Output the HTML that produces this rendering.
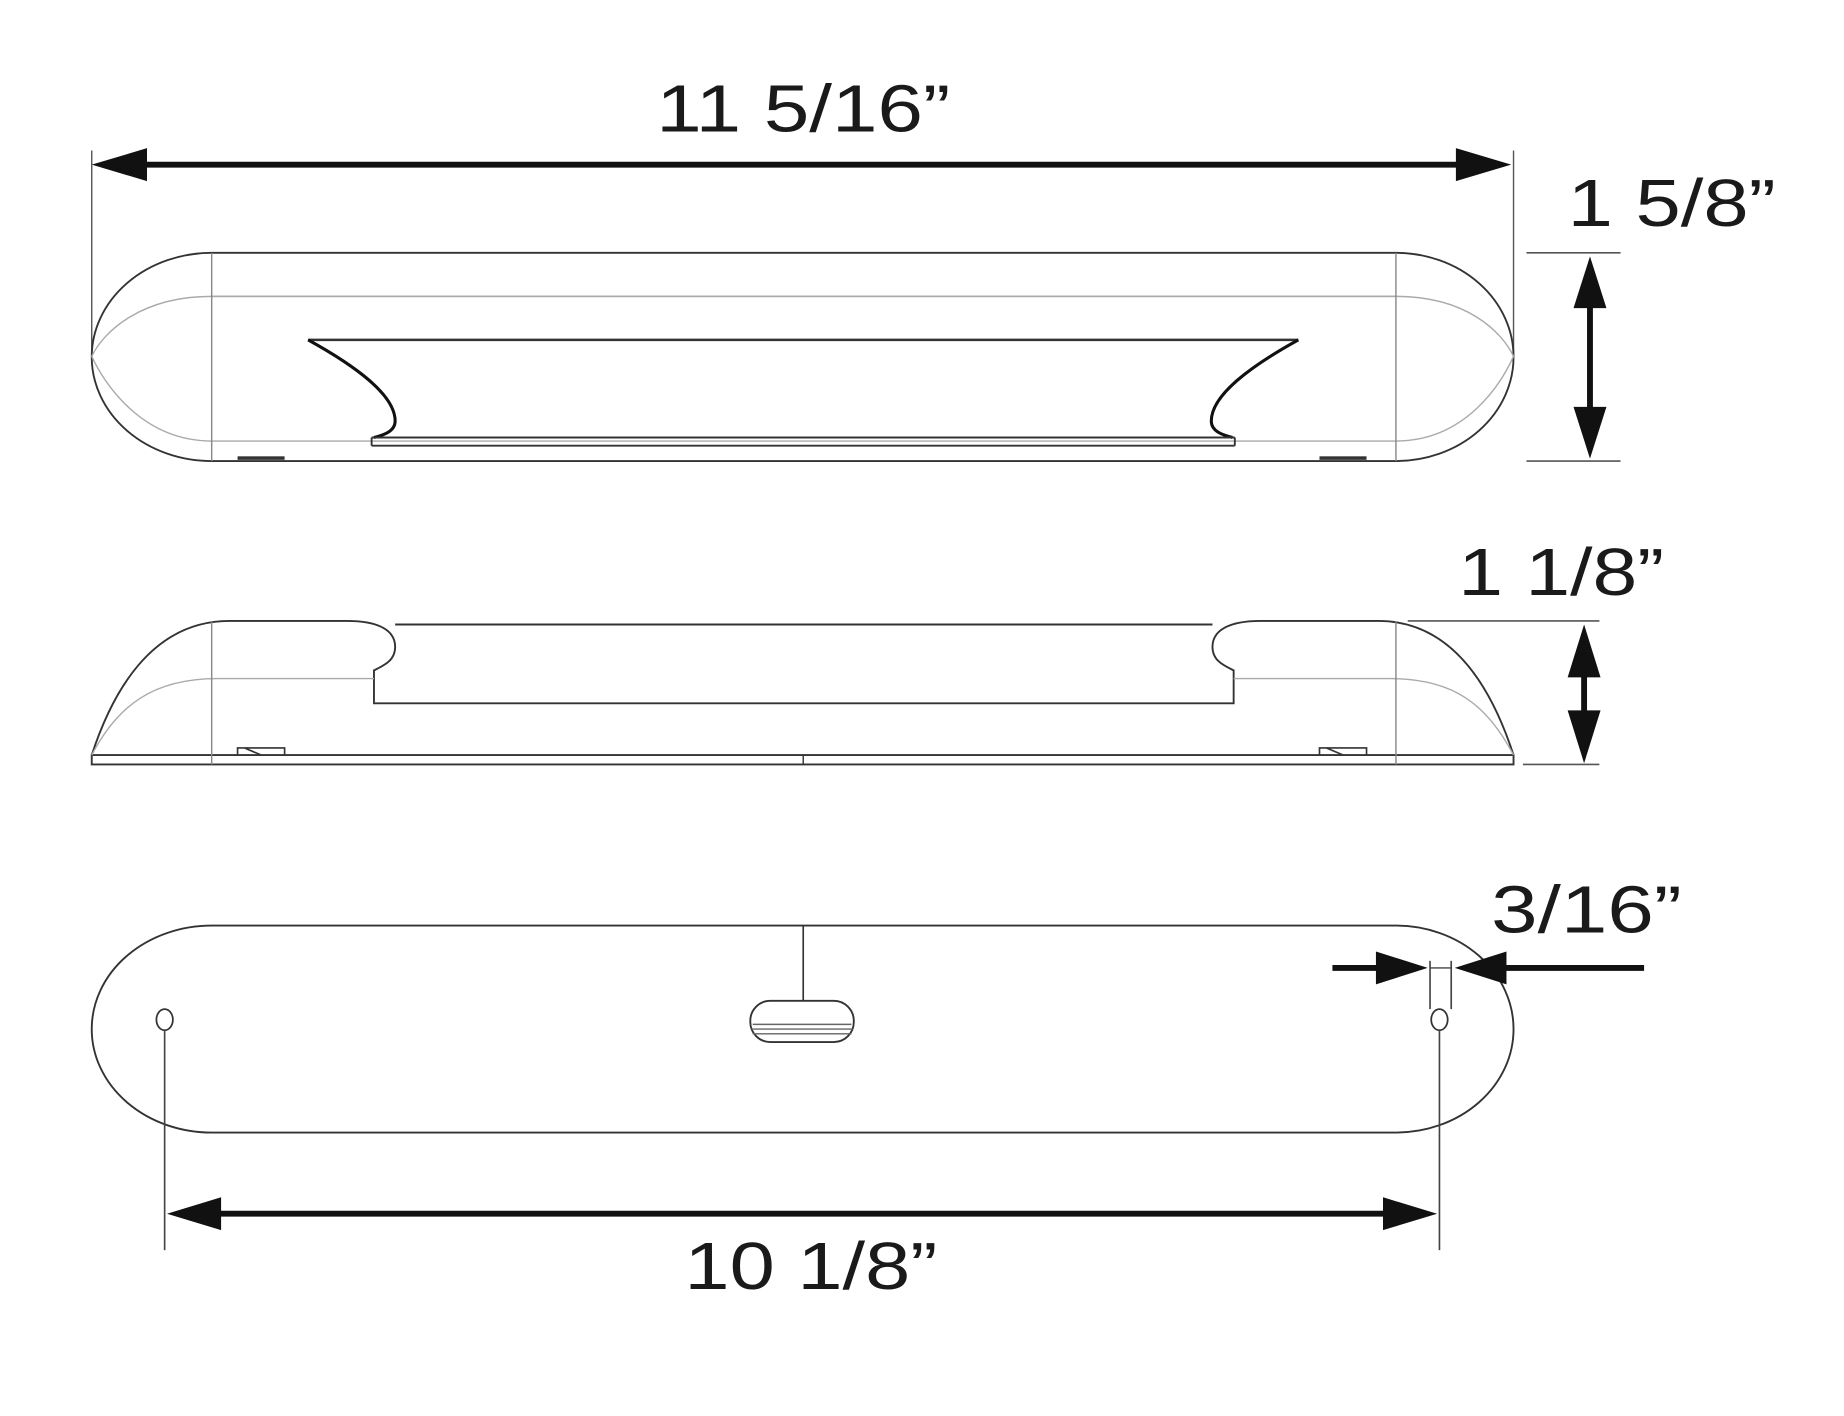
<!DOCTYPE html>
<html><head><meta charset="utf-8"><style>
html,body{margin:0;padding:0;background:#fff;}
svg{display:block;}
text{font-family:"Liberation Sans",sans-serif;font-size:57px;fill:#1a1a1a;}
</style></head><body>
<svg width="1844" height="1416" viewBox="0 0 1568 1204" preserveAspectRatio="none" xmlns="http://www.w3.org/2000/svg">
<rect width="1568" height="1204" fill="#fff"/>
<!-- TOP DIMENSION -->
<text x="558" y="112" textLength="250" lengthAdjust="spacingAndGlyphs">11 5/16”</text>
<line x1="78" y1="128" x2="78" y2="300" stroke="#555" stroke-width="1.2"/>
<line x1="1287" y1="128" x2="1287" y2="300" stroke="#555" stroke-width="1.2"/>
<line x1="118" y1="140" x2="1245" y2="140" stroke="#111" stroke-width="5"/>
<polygon points="78,140 125,126 125,154" fill="#111"/>
<polygon points="1285,140 1238,126 1238,154" fill="#111"/>

<!-- TOP VIEW -->
<path d="M180,215 H1187 A100,88.5 0 0 1 1187,392 H180 A102,88.5 0 0 1 180,215 Z" fill="none" stroke="#333" stroke-width="1.6"/>
<path d="M180,252 C120,252 88,282 78,303 C88,325 120,375 180,375 H1187 C1247,375 1277,325 1287,303 C1277,282 1247,252 1187,252 Z" fill="none" stroke="#aaa" stroke-width="1.2"/>
<line x1="180" y1="252" x2="1187" y2="252" stroke="#aaa" stroke-width="1.2"/>
<line x1="180" y1="215" x2="180" y2="392" stroke="#888" stroke-width="1.2"/>
<line x1="1187" y1="215" x2="1187" y2="392" stroke="#888" stroke-width="1.2"/>
<path d="M262,289 H1104" stroke="#333" stroke-width="2.2" fill="none"/>
<path d="M262,289 C300,310 336,335 336,358 C336,367 326,370 318,372" stroke="#111" stroke-width="2.6" fill="none"/>
<path d="M1104,289 C1066,310 1030,335 1030,358 C1030,367 1040,370 1048,372" stroke="#111" stroke-width="2.6" fill="none"/>
<path d="M316,372 H1050 M316,379 H1050 M316,372 V379 M1050,372 V379" stroke="#333" stroke-width="1.6" fill="none"/>
<rect x="202" y="388" width="40" height="3" fill="#333"/>
<rect x="1122" y="388" width="40" height="3" fill="#333"/>

<!-- 1 5/8 -->
<text x="1333" y="192" textLength="177" lengthAdjust="spacingAndGlyphs">1 5/8”</text>
<line x1="1298" y1="215" x2="1378" y2="215" stroke="#555" stroke-width="1.4"/>
<line x1="1298" y1="392" x2="1378" y2="392" stroke="#555" stroke-width="1.4"/>
<line x1="1352" y1="250" x2="1352" y2="358" stroke="#111" stroke-width="5"/>
<polygon points="1352,218 1338,262 1366,262" fill="#111"/>
<polygon points="1352,390 1338,346 1366,346" fill="#111"/>

<!-- SIDE VIEW -->
<path d="M78,642 C95,590 128,528 195,528 H295 C322,528 336,536 336,550 C336,562 326,566 318,570 V598 H1049 V570 C1041,566 1031,562 1031,550 C1031,536 1045,528 1072,528 H1172 C1238,528 1270,590 1287,642" fill="none" stroke="#333" stroke-width="1.6"/>
<line x1="336" y1="531" x2="1031" y2="531" stroke="#333" stroke-width="1.6"/>
<rect x="78" y="642" width="1209" height="8" fill="none" stroke="#333" stroke-width="1.6"/>
<path d="M78,642 C100,600 130,577 185,577 H318 M1049,577 H1182 C1237,577 1265,600 1287,642" fill="none" stroke="#aaa" stroke-width="1.2"/>
<line x1="180" y1="528" x2="180" y2="650" stroke="#888" stroke-width="1.2"/>
<line x1="1187" y1="528" x2="1187" y2="650" stroke="#888" stroke-width="1.2"/>
<line x1="683" y1="642" x2="683" y2="650" stroke="#333" stroke-width="1.2"/>
<path d="M202,642 V636 H242 V642 M208,636 L222,642" fill="none" stroke="#333" stroke-width="1.4"/>
<path d="M1122,642 V636 H1162 V642 M1128,636 L1142,642" fill="none" stroke="#333" stroke-width="1.4"/>

<!-- 1 1/8 -->
<text x="1240" y="506" textLength="175" lengthAdjust="spacingAndGlyphs">1 1/8”</text>
<line x1="1197" y1="528" x2="1360" y2="528" stroke="#555" stroke-width="1.4"/>
<line x1="1295" y1="650" x2="1360" y2="650" stroke="#555" stroke-width="1.4"/>
<line x1="1347" y1="570" x2="1347" y2="610" stroke="#111" stroke-width="5"/>
<polygon points="1347,531 1333,576 1361,576" fill="#111"/>
<polygon points="1347,649 1333,604 1361,604" fill="#111"/>

<!-- BOTTOM VIEW -->
<path d="M180,787 H1187 A100,88 0 0 1 1187,963 H180 A102,88 0 0 1 180,787 Z" fill="none" stroke="#333" stroke-width="1.6"/>
<ellipse cx="140" cy="867" rx="7" ry="9" fill="#fff" stroke="#333" stroke-width="1.5"/>
<ellipse cx="1224" cy="867" rx="7" ry="9" fill="#fff" stroke="#333" stroke-width="1.5"/>
<line x1="683" y1="787" x2="683" y2="851" stroke="#333" stroke-width="1.4"/>
<rect x="638" y="851" width="88" height="35" rx="17" ry="17" fill="#fff" stroke="#333" stroke-width="1.6"/>
<path d="M640,871 H724 M639,875 H725 M640,879 H724" stroke="#666" stroke-width="1.2"/>
<line x1="140" y1="876" x2="140" y2="1063" stroke="#444" stroke-width="1.4"/>
<line x1="1224" y1="876" x2="1224" y2="1063" stroke="#444" stroke-width="1.4"/>
<line x1="180" y1="1032" x2="1185" y2="1032" stroke="#111" stroke-width="5"/>
<polygon points="142,1032 188,1018 188,1046" fill="#111"/>
<polygon points="1222,1032 1176,1018 1176,1046" fill="#111"/>
<text x="582" y="1096" textLength="215" lengthAdjust="spacingAndGlyphs">10 1/8”</text>

<!-- 3/16 -->
<text x="1268" y="793" textLength="162" lengthAdjust="spacingAndGlyphs">3/16”</text>
<line x1="1216" y1="817" x2="1216" y2="858" stroke="#444" stroke-width="1.4"/>
<line x1="1234" y1="817" x2="1234" y2="858" stroke="#444" stroke-width="1.4"/>
<line x1="1216" y1="823" x2="1234" y2="823" stroke="#444" stroke-width="1.2"/>
<line x1="1133" y1="823" x2="1175" y2="823" stroke="#111" stroke-width="5"/>
<polygon points="1214,823 1170,809 1170,837" fill="#111"/>
<line x1="1275" y1="823" x2="1398" y2="823" stroke="#111" stroke-width="5"/>
<polygon points="1237,823 1281,809 1281,837" fill="#111"/>
</svg>
</body></html>
